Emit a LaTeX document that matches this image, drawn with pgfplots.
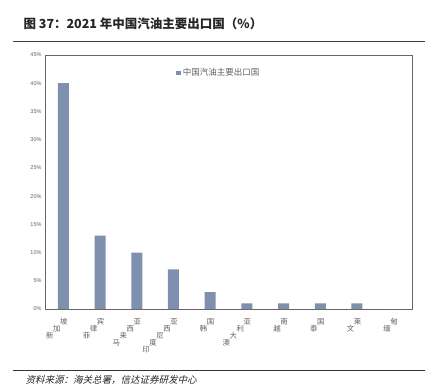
\documentclass[border=0pt]{standalone}
\usepackage{fontspec}
\setmainfont{Liberation Sans}
\newfontfamily\cjk{Noto Sans CJK SC}
\newfontfamily\cjki{Noto Sans CJK SC}[FakeSlant=0.25]
\usepackage{pgfplots}
\pgfplotsset{compat=1.18}
\definecolor{barc}{HTML}{7F8FAE}
\definecolor{tickgray}{HTML}{606060}
\begin{document}
\begin{tikzpicture}[x=1pt,y=1pt]
\path[use as bounding box] (0,0) rectangle (438,391);
\node[anchor=west,font=\cjk\bfseries\fontsize{12.5}{14}\selectfont,text=black!85] at (20,367) {图 37：2021 年中国汽油主要出口国（\%）};
\draw[black!75,line width=1pt] (13,349) -- (425,349);
\draw[black!80,line width=0.8pt] (13,21) -- (425,21);
\node[anchor=west,font=\cjki\fontsize{9.5}{11}\selectfont,text=black!85] at (22,11) {资料来源：海关总署，信达证券研发中心};
\begin{axis}[
  at={(45pt,82pt)}, anchor=south west,
  scale only axis, width=367pt, height=254pt,
  ybar, bar width=11pt,
  xmin=-0.5, xmax=9.5, ymin=0, ymax=45,
  ytick={0,5,...,45},
  yticklabel={\pgfmathprintnumber{\tick}\%},
  yticklabel style={font=\fontsize{5.5}{6}\selectfont,text=tickgray},
  xtick={0,...,9},
  xticklabels={},
  axis line style={black!60},
  major tick length=0pt,
  tick style={draw=none},
  /pgf/number format/assume math mode=true,
  legend style={at={(0.355,0.93)},anchor=west,draw=none,fill=none,font=\cjk\fontsize{8.5}{9}\selectfont,text=tickgray,inner sep=1pt},
  legend image code/.code={\fill[barc] (0pt,-2.2pt) rectangle (4.4pt,2.2pt);},
]
\addplot[fill=barc,draw=none] coordinates {(0,40) (1,13) (2,10) (3,7) (4,3) (5,1) (6,1) (7,1) (8,1) (9,0)};
\addlegendentry{中国汽油主要出口国}
\end{axis}
\begin{scope}[every node/.style={font=\cjk\fontsize{7.4}{7.5}\selectfont,text=tickgray,inner sep=0pt}]
\foreach \i/\chars/\n in {0/{新,加,坡}/3,1/{菲,律,宾}/3,2/{马,来,西,亚}/4,3/{印,度,尼,西,亚}/5,4/{韩,国}/2,5/{澳,大,利,亚}/4,6/{越,南}/2,7/{泰,国}/2,8/{文,莱}/2,9/{缅,甸}/2}{
  \foreach \c [count=\k] in \chars {
    \pgfmathsetmacro{\off}{7*(\n-\k)}
    \node at ({45+36.7*(\i+0.5)+0.5-\off},{69-\off}) {\c};
  }
}
\end{scope}
\end{tikzpicture}
\end{document}
